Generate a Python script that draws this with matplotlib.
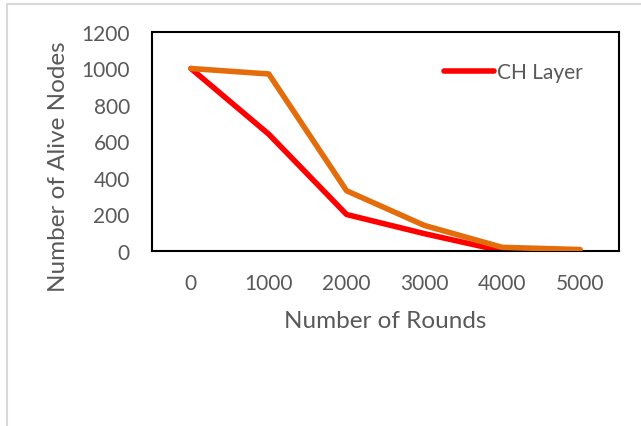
import matplotlib
matplotlib.use("Agg")
import matplotlib.pyplot as plt
from matplotlib.patches import Rectangle

# Data
rounds = ["0", "1000", "2000", "3000", "4000", "5000"]
ch_layer = [1000, 640, 200, 95, 0, 0]
other = [1000, 970, 330, 140, 20, 8]
y_ticks = [0, 200, 400, 600, 800, 1000, 1200]

plt.rcParams['font.family'] = ['Lato', 'DejaVu Sans']
text_color = '#595959'

fig = plt.figure(figsize=(6.41, 4.27), dpi=100)

# light gray outer frame (right and bottom cut off)
fig.patches.append(Rectangle((7 / 641, -0.1), 1.2, 1 - 5 / 427 + 0.1,
                             transform=fig.transFigure, fill=False,
                             edgecolor='#d9d9d9', linewidth=1.5))

ax = fig.add_axes([152 / 641, (427 - 252) / 427, 467 / 641, 219 / 427])
x = range(len(rounds))
ax.plot(x, other, color='#e46c0a', linewidth=4, solid_capstyle='round',
        solid_joinstyle='round', zorder=3)
ax.plot(x, ch_layer, color='#ff0000', linewidth=4, solid_capstyle='round',
        solid_joinstyle='round', label='CH Layer', zorder=2)

ax.set_xlim(-0.5, len(rounds) - 0.5)
ax.set_ylim(0, 1200)
ax.set_xticks(list(x))
ax.set_xticklabels(rounds)
ax.set_yticks(y_ticks)
ax.tick_params(length=0, labelsize=15, colors=text_color, pad=16)
for s in ax.spines.values():
    s.set_color('black')
    s.set_linewidth(1.5)

ax.set_xlabel("Number of Rounds", fontsize=17.5, color=text_color, labelpad=12)
ax.set_ylabel("Number of Alive Nodes", fontsize=17.5, color=text_color)
ax.yaxis.set_label_coords((69 - 152) / 467, (252 - 167) / 219)

leg = ax.legend(loc='center left', bbox_to_anchor=((444 - 152) / 467, (252 - 73) / 219),
                frameon=False, borderpad=0, borderaxespad=0,
                fontsize=15, handlelength=2.4, handletextpad=0.15,
                labelcolor=text_color)

fig.savefig("out.png", dpi=100)
